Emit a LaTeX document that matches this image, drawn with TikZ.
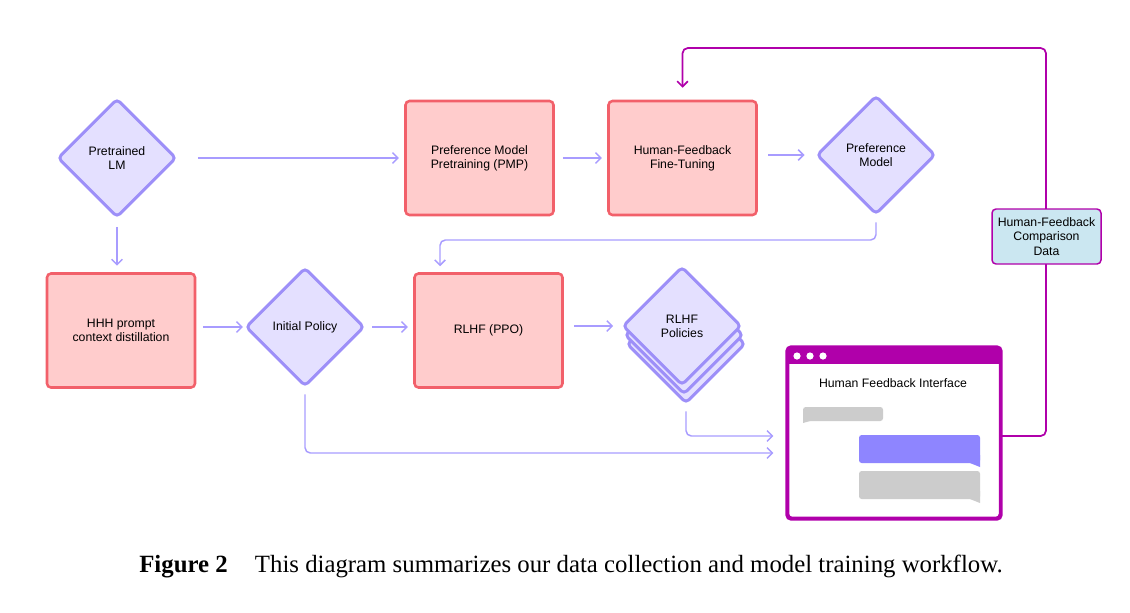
\documentclass[tikz,border=0pt]{standalone}
\usepackage{fontspec}
\setmainfont{Liberation Serif}
\newfontfamily\diagfont{Liberation Sans}
\usetikzlibrary{arrows.meta,shapes.geometric}
\definecolor{dfill}{HTML}{E4E0FF}
\definecolor{dline}{HTML}{9D8FF8}
\definecolor{bfill}{HTML}{FFCCCC}
\definecolor{bline}{HTML}{F2606A}
\definecolor{mag}{HTML}{B000AA}
\definecolor{cfill}{HTML}{CBE7F1}
\definecolor{conn}{HTML}{A89CFF}
\definecolor{bubgray}{HTML}{CCCCCC}
\definecolor{bubpurp}{HTML}{8E85FF}
\begin{document}
\begin{tikzpicture}[x=0.75pt,y=-0.75pt,
  every node/.style={font=\diagfont\fontsize{9.2}{10.6}\selectfont, align=center, text=black},
  dia/.style={diamond, aspect=1, draw=dline, fill=dfill, line width=2.2pt, rounded corners=3pt, inner sep=0pt, minimum width=89pt, minimum height=89pt},
  pbox/.style={rectangle, draw=bline, fill=bfill, line width=1.9pt, rounded corners=3pt, minimum width=111pt, minimum height=85.5pt},
  arr/.style={draw=conn, line width=1.1pt, -{Straight Barb[length=4pt,width=8pt,line width=1.1pt]}},
  fb/.style={draw=mag, line width=1.3pt, rounded corners=4pt, -{Straight Barb[length=4pt,width=8pt,line width=1.3pt]}},
  bub/.style={rounded corners=2pt}
]
\useasboundingbox (0,0) rectangle (1130,612);

% row 1
\node[dia] (plm) at (117,158) {Pretrained\\LM};
\node[pbox] (pmp) at (479.5,158) {Preference Model\\Pretraining (PMP)};
\node[pbox] (hfft) at (682.5,158) {Human-Feedback\\Fine-Tuning};
\node[dia] (pm) at (876,155) {Preference\\Model};

% row 2
\node[pbox] (hhh) at (121,330.5) {HHH prompt\\context distillation};
\node[dia] (ip) at (305,327) {Initial Policy};
\node[pbox] (ppo) at (488.5,330.5) {RLHF (PPO)};
\node[dia] (rp3) at (686,344) {};
\node[dia] (rp2) at (684,335) {};
\node[dia] (rp1) at (682,326) {RLHF\\Policies};

% interface window
\node[rectangle, draw=mag, fill=white, line width=1.9pt, rounded corners=3pt, minimum width=159pt, minimum height=127.5pt] (hfi) at (894,433) {};
\fill[mag, rounded corners=3pt] (hfi.north west) rectangle ([yshift=-12.75pt]hfi.north east);
\fill[mag] ([yshift=-6pt]hfi.north west) rectangle ([yshift=-12.75pt]hfi.north east);
\draw[mag, line width=1.9pt, rounded corners=3pt] (hfi.north west) rectangle (hfi.south east);
\fill[white] (797,356) circle[radius=3.6];
\fill[white] (810,356) circle[radius=3.6];
\fill[white] (823,356) circle[radius=3.6];
\node (hfit) at (893,383) {Human Feedback Interface};
% bubbles
\fill[bubgray, bub] (803,407) rectangle (883,421);
\fill[bubgray] (803,414) -- (803,423) -- (810,421) -- cycle;
\fill[bubpurp, bub] (859,435) rectangle (980,463);
\fill[bubpurp] (980,455) -- (980,467) -- (970,463) -- cycle;
\fill[bubgray, bub] (859,471) rectangle (980,499);
\fill[bubgray] (980,491) -- (980,503) -- (970,499) -- cycle;

% connectors
\draw[arr, shorten <=15pt, shorten >=4pt] (plm.east) -- (pmp.west);
\draw[arr, shorten <=6pt, shorten >=4pt] (pmp.east) -- (hfft.west);
\draw[arr, shorten <=8pt, shorten >=8pt] (hfft.east |- pm.west) -- (pm.west);
\draw[arr, shorten <=6pt, shorten >=5pt] (plm.south) -- (plm.south |- hhh.north);
\draw[arr, shorten <=5pt, shorten >=1pt] (hhh.east |- ip.west) -- (ip.west);
\draw[arr, shorten <=5pt, shorten >=4pt] (ip.east) -- (ip.east -| ppo.west);
\draw[arr, shorten <=8pt, shorten >=6pt] (ppo.east |- rp1.west) -- (rp1.west);

\coordinate (a1) at (440,240);
\draw[arr, rounded corners=4pt] ([yshift=-5pt]pm.south) |- (a1) -- ([yshift=4.5pt]a1 |- ppo.north);

\draw[arr, rounded corners=4pt] ([yshift=-5pt]ip.south) |- ([xshift=-10pt,yshift=-15pt]hfi.west);
\draw[arr, rounded corners=4pt] ([yshift=-5pt]rp3.south) |- ([xshift=-10pt,yshift=-2.25pt]hfi.west);

% feedback loop
\coordinate (f1) at (1046,48);
\draw[fb] ([yshift=-2.25pt]hfi.east) -| (f1) -| ([yshift=9pt]hfft.north);
\node[rectangle, draw=mag, fill=cfill, line width=1.1pt, rounded corners=3pt, minimum width=81.75pt, minimum height=41.25pt, inner sep=1pt] (cmp) at (1046.5,236.5) {Human-Feedback\\Comparison\\Data};

% caption
\node[font=\fontsize{18.6}{21}\selectfont, anchor=center] (cap) at (571,566) {\textbf{Figure 2}\hspace{1.1em}This diagram summarizes our data collection and model training workflow.};
\end{tikzpicture}
\end{document}
